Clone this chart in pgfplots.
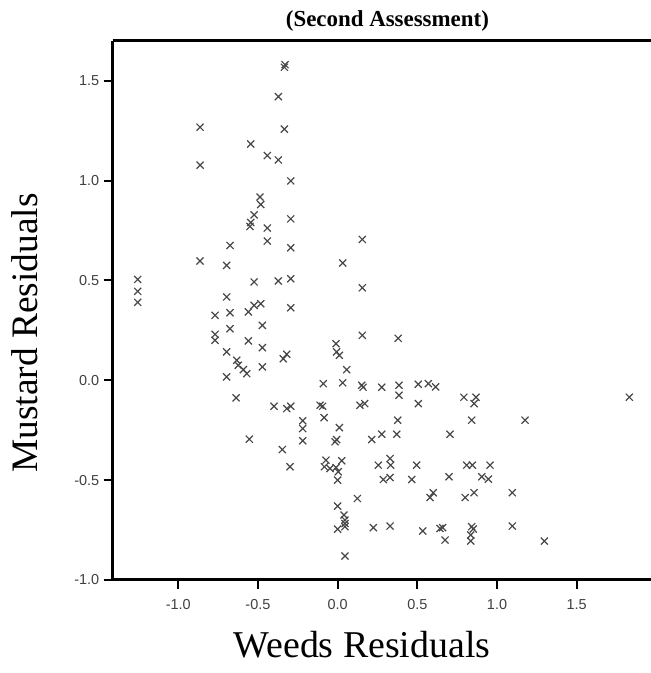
\documentclass[border=0pt]{standalone}
\usepackage{fontspec}
\setmainfont{Liberation Serif}
\newfontfamily\arial{Liberation Sans}
\usepackage{pgfplots}
\pgfplotsset{compat=1.18}

\pgfplotstableread{
x y
-1.254 0.505
-1.254 0.445
-1.254 0.390
-0.334 1.567
-0.330 1.580
-0.372 1.420
-0.863 1.267
-0.334 1.257
-0.545 1.183
-0.441 1.125
-0.372 1.103
-0.863 1.077
-0.294 0.998
-0.487 0.917
-0.482 0.880
-0.524 0.828
-0.545 0.790
-0.550 0.770
-0.441 0.762
-0.294 0.808
-0.441 0.697
-0.294 0.663
-0.675 0.675
-0.863 0.597
-0.696 0.575
0.155 0.705
0.032 0.587
0.155 0.463
-0.524 0.492
-0.372 0.497
-0.294 0.508
-0.696 0.417
-0.524 0.375
-0.482 0.383
-0.560 0.342
-0.675 0.338
-0.769 0.325
-0.294 0.363
-0.472 0.275
-0.675 0.258
-0.769 0.230
-0.769 0.200
-0.560 0.197
-0.472 0.163
-0.696 0.142
-0.633 0.100
-0.623 0.075
-0.591 0.053
-0.570 0.033
-0.696 0.017
-0.472 0.067
-0.341 0.108
-0.319 0.130
-0.010 0.183
-0.006 0.142
0.011 0.125
0.057 0.053
0.155 0.225
0.380 0.210
-0.090 -0.017
0.032 -0.013
0.151 -0.025
0.160 -0.035
0.277 -0.035
0.385 -0.025
0.385 -0.075
0.506 -0.020
0.569 -0.017
0.615 -0.033
0.792 -0.085
0.868 -0.085
1.830 -0.085
0.140 -0.125
0.170 -0.117
0.506 -0.117
0.856 -0.117
0.377 -0.200
0.841 -0.200
1.176 -0.200
0.214 -0.297
0.277 -0.270
0.371 -0.270
0.705 -0.270
0.124 -0.592
0.255 -0.425
0.329 -0.392
0.333 -0.425
0.496 -0.425
0.810 -0.425
0.845 -0.425
0.956 -0.425
0.287 -0.497
0.329 -0.487
0.465 -0.497
0.699 -0.483
0.904 -0.483
0.946 -0.495
1.096 -0.563
0.580 -0.587
0.600 -0.563
0.800 -0.587
0.856 -0.563
0.224 -0.738
0.329 -0.730
0.534 -0.755
0.642 -0.742
0.659 -0.738
0.674 -0.800
0.841 -0.733
0.851 -0.745
0.835 -0.775
0.835 -0.805
1.096 -0.730
1.297 -0.805
-0.637 -0.088
-0.399 -0.130
-0.319 -0.142
-0.294 -0.130
-0.110 -0.125
-0.094 -0.130
-0.219 -0.203
-0.219 -0.242
-0.219 -0.303
-0.085 -0.187
0.011 -0.237
-0.006 -0.297
-0.016 -0.308
-0.554 -0.295
-0.347 -0.347
-0.299 -0.433
-0.073 -0.400
-0.083 -0.433
-0.048 -0.442
-0.010 -0.437
0.026 -0.403
0.004 -0.458
0.000 -0.500
0.000 -0.630
0.040 -0.675
0.046 -0.700
0.046 -0.717
0.000 -0.745
0.046 -0.733
0.046 -0.880
}\resid

\begin{document}
\begin{tikzpicture}[x=1bp,y=1bp]
\path[use as bounding box] (0,0) rectangle (651,673);
\begin{axis}[
  at={(112.7bp,93bp)}, anchor=south west,
  scale only axis, width=538.3bp, height=539.3bp,
  xmin=-1.411, xmax=1.966, ymin=-1.0, ymax=1.70,
  axis lines=left,
  axis line style={-, line width=3bp, black},
  xtick={-1,-0.5,0,0.5,1,1.5},
  ytick={-1,-0.5,0,0.5,1,1.5},
  tick align=outside,
  major tick length=9bp,
  tick style={line width=2bp, black},
  /pgf/number format/assume math mode=true,
  /pgf/number format/.cd, fixed, fixed zerofill, precision=1, /pgfplots/.cd,
  ticklabel style={font=\arial\fontsize{14.5}{16}\selectfont, text=black!75},
  xticklabel style={yshift=-7bp},
  yticklabel style={xshift=-1bp},
  clip=false,
]
\addplot[only marks, mark=x, mark size=5bp, mark options={line width=1.2bp, black!72}] table {\resid};
\draw[line width=3bp, black] (rel axis cs:0,1) -- (rel axis cs:1,1);
\end{axis}
\node[font=\bfseries\fontsize{23}{26}\selectfont] at (387.4,652) {(Second Assessment)};
\node[font=\fontsize{38}{42}\selectfont] at (362,28) {Weeds Residuals};
\node[font=\fontsize{37.5}{42}\selectfont, rotate=90] at (25,340) {Mustard Residuals};
\end{tikzpicture}
\end{document}
